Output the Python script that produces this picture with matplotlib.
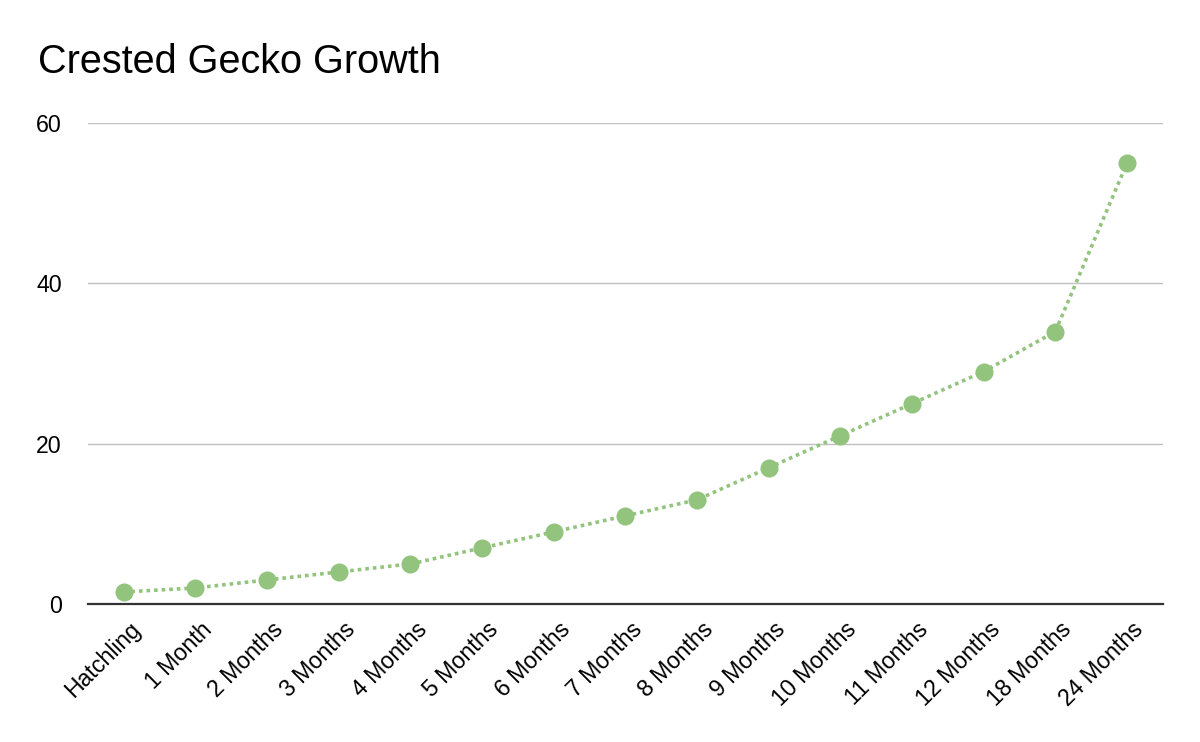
import matplotlib
matplotlib.use("Agg")
import matplotlib.pyplot as plt
from matplotlib.transforms import ScaledTranslation

categories = ["Hatchling", "1 Month", "2 Months", "3 Months", "4 Months", "5 Months",
              "6 Months", "7 Months", "8 Months", "9 Months", "10 Months", "11 Months",
              "12 Months", "18 Months", "24 Months"]
values = [1.5, 2, 3, 4, 5, 7, 9, 11, 13, 17, 21, 25, 29, 34, 55]
yticks = [0, 20, 40, 60]

plt.rcParams['font.family'] = ['Liberation Sans', 'DejaVu Sans']

fig = plt.figure(figsize=(12, 7.42), dpi=100)
ax = fig.add_axes([0.0733, 0.186, 0.8957, 0.648])

x = list(range(len(categories)))
ax.plot(x, values, color="#93c47d", linewidth=2.6, linestyle=(0, (1, 1.1)),
        marker="o", markersize=13, markeredgewidth=0, zorder=3,
        dash_capstyle='butt')

ax.set_xlim(-0.5, len(categories) - 0.5)
ax.set_ylim(0, 60)
ax.set_yticks(yticks)
ax.set_yticklabels([str(v) for v in yticks])
ax.set_xticks(x)

ax.grid(axis="y", color="#c0c0c0", linewidth=1)
ax.set_axisbelow(True)
for s in ["top", "right", "left"]:
    ax.spines[s].set_visible(False)
ax.spines["bottom"].set_color("#333333")
ax.spines["bottom"].set_linewidth(1.6)
ax.spines["bottom"].set_zorder(2)
ax.tick_params(axis="both", length=0, labelsize=16.7, colors="#000000")
ax.tick_params(axis="y", pad=18.7)
ax.tick_params(axis="x", pad=15.8)

ax.set_xticklabels(categories, rotation=45, ha="right", va="center",
                   rotation_mode="anchor")
offset = ScaledTranslation(13 / 100, 0, fig.dpi_scale_trans)
for lbl in ax.get_xticklabels():
    lbl.set_transform(lbl.get_transform() + offset)

fig.text(0.032, 0.916, "Crested Gecko Growth", fontsize=28.5, ha="left", va="center")

fig.savefig("out.png", dpi=100)
